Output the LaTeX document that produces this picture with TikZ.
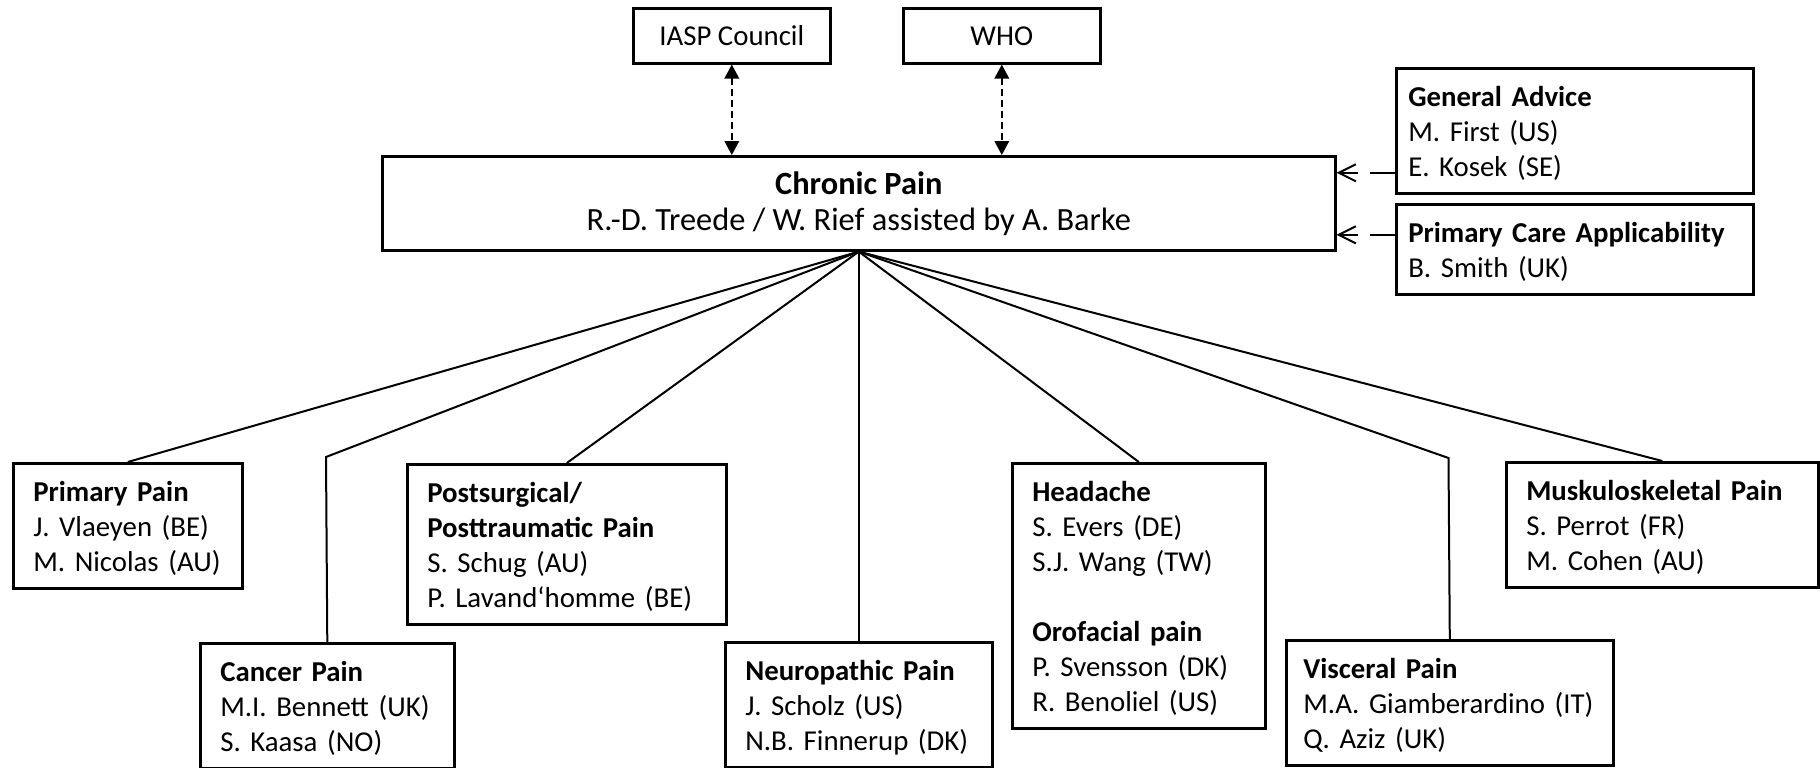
\documentclass[tikz,border=0pt]{standalone}
\usepackage{fontspec}
\setmainfont{Carlito}
\usetikzlibrary{arrows.meta,calc,positioning}
\newcommand{\boxstrut}{\rule[-3.5pt]{0pt}{17.5pt}}
\tikzset{
    mybox/.style={draw=black,line width=1.3pt,anchor=north west,align=left,
        inner xsep=10pt,inner ysep=5pt,
        execute at begin node=\boxstrut,execute at end node=\boxstrut,
        font=\fontsize{14.4}{17.5}\selectfont},
    sidebox/.style={mybox,inner xsep=6pt,text width=166.5pt},
    topbox/.style={draw=black,line width=1.3pt,anchor=north west,inner sep=0pt,
        minimum width=98.5pt,minimum height=27.5pt,font=\fontsize{14.4}{17.5}\selectfont},
    mainbox/.style={draw=black,line width=1.3pt,anchor=north west,inner sep=0pt,align=center,
        minimum width=476.5pt,minimum height=47pt,font=\fontsize{16.2}{18}\selectfont},
    myedge/.style={line width=1pt,draw=black},
    linkarrow/.style={line width=0.85pt,dash pattern=on 3.5pt off 2pt,
        {Triangle[length=7pt,width=7.3pt]}-{Triangle[length=7pt,width=7.3pt]}},
    advarrow/.style={line width=1pt,dash pattern=on 12.5pt off 6pt,
        -{Straight Barb[length=8.5pt,width=8.5pt]}}
}

\begin{document}
\begin{tikzpicture}[x=0.5pt,y=-0.5pt]
  \useasboundingbox (0,0) rectangle (1820,767);

  % top row
  \node[topbox] (iasp) at (632,7) {IASP Council};
  \node[topbox] (who)  at (902,7) {WHO};
  \node[mainbox] (chronic) at (381,155)
    {\textbf{Chronic Pain}\\R.-D. Treede / W. Rief assisted by A. Barke};

  % advisory boxes
  \node[sidebox] (advice) at (1395,67)
    {\textbf{General Advice}\\M. First (US)\\E. Kosek (SE)};
  \node[sidebox] (primcare) at (1395,203)
    {\textbf{Primary Care Applicability}\\B. Smith (UK)};

  % working groups
  \node[mybox,text width=94.5pt] (primary) at (12,462)
    {\textbf{Primary Pain}\\J. Vlaeyen (BE)\\M. Nicolas (AU)};
  \node[mybox,text width=107pt] (cancer) at (199,642)
    {\textbf{Cancer Pain}\\M.I. Bennett (UK)\\S. Kaasa (NO)};
  \node[mybox,text width=139.5pt] (postsurg) at (406,463)
    {\textbf{Postsurgical/}\\\textbf{Posttraumatic Pain}\\S. Schug (AU)\\P. Lavand‘homme (BE)};
  \node[mybox,text width=113.5pt] (neuro) at (724,641)
    {\textbf{Neuropathic Pain}\\J. Scholz (US)\\N.B. Finnerup (DK)};
  \node[mybox,text width=106.5pt] (headache) at (1011,462)
    {\textbf{Headache}\\S. Evers (DE)\\S.J. Wang (TW)\\[17.5pt]
     \textbf{Orofacial pain}\\P. Svensson (DK)\\R. Benoliel (US)};
  \node[mybox,inner xsep=8.5pt,text width=146.5pt] (visceral) at (1285,639)
    {\textbf{Visceral Pain}\\M.A. Giamberardino (IT)\\Q. Aziz (UK)};
  \node[mybox,text width=136pt] (muskulo) at (1505,461)
    {\textbf{Muskuloskeletal Pain}\\S. Perrot (FR)\\M. Cohen (AU)};

  % dashed links to IASP and WHO
  \foreach \P in {iasp,who}{
    \draw[linkarrow] (\P.south) -- (chronic.north -| \P.south);
  }

  % advice arrows
  \draw[advarrow] ([yshift=-21pt]advice.west) -- ([yshift=-21pt]advice.west -| chronic.east);
  \draw[advarrow] ([yshift=7.25pt]primcare.west) -- ([yshift=7.25pt]primcare.west -| chronic.east);

  % branches
  \coordinate (cancerbend) at (326,457);
  \coordinate (viscbend)   at (1448.5,458);
  \foreach \P in {primary,postsurg,neuro,headache,muskulo}{
    \draw[myedge] (chronic.south) -- (\P.north);
  }
  \foreach \P/\B in {cancer/cancerbend,visceral/viscbend}{
    \draw[myedge] (chronic.south) -- (\B) -- (\P.north);
  }
\end{tikzpicture}
\end{document}
